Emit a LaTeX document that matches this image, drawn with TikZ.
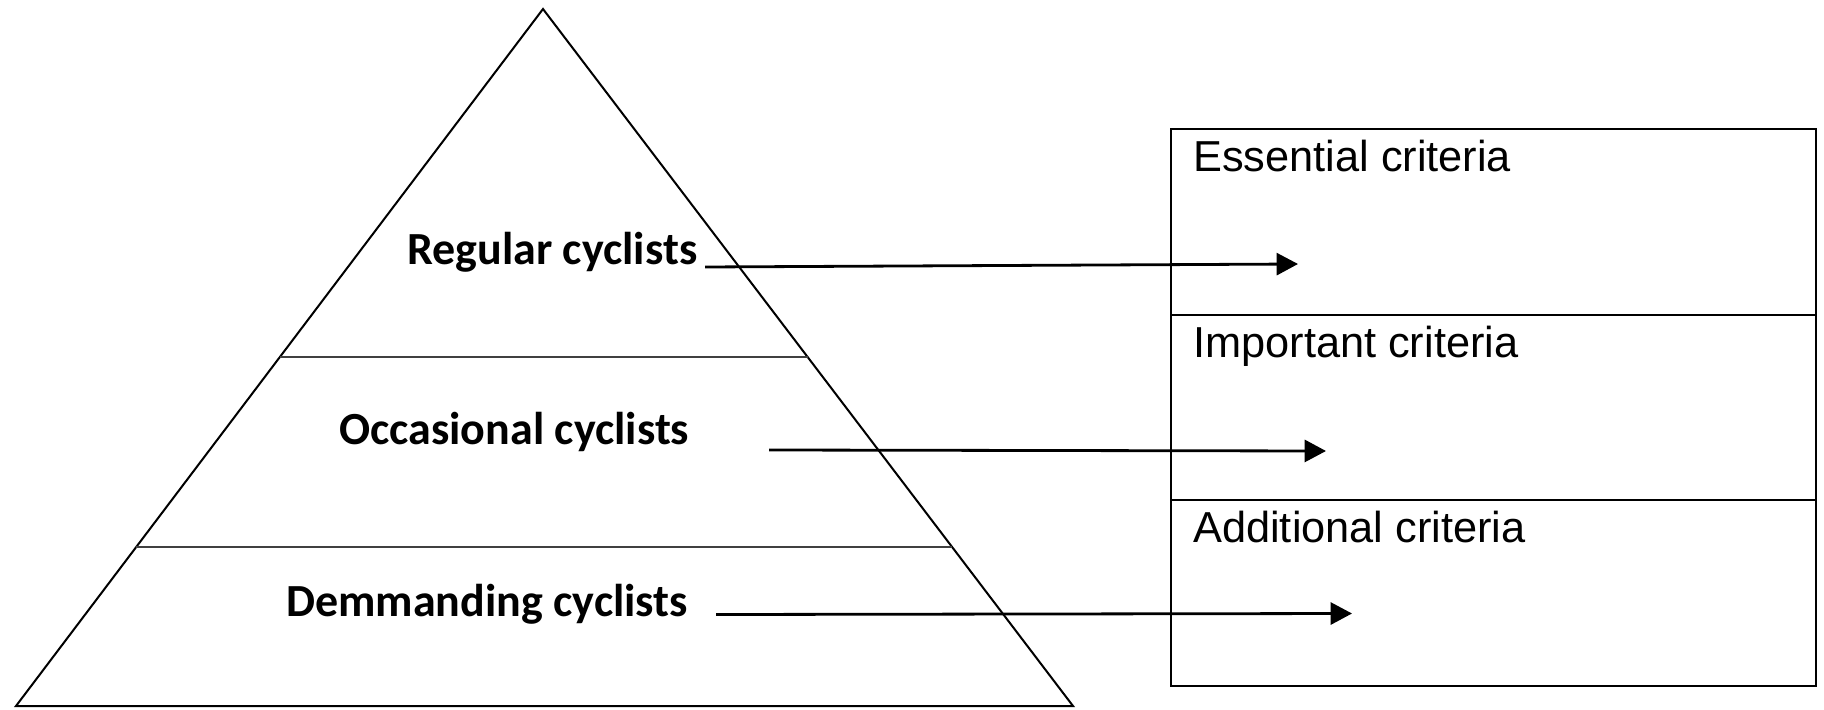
\documentclass[tikz,border=0pt]{standalone}
\usepackage{fontspec}
\setmainfont{Carlito}
\newfontfamily\critfont{Liberation Sans}
\usetikzlibrary{calc, arrows.meta}

\begin{document}
\begin{tikzpicture}[x=0.75pt, y=-0.75pt,
  edge/.style={line width=1.5pt},
  layer/.style={line width=1.5pt, black!75},
  level/.style={font=\fontsize{34.5}{41}\selectfont\bfseries, anchor=base west, inner sep=0pt},
  crit/.style={font=\critfont\fontsize{32.5}{39}\selectfont, anchor=base west, inner sep=0pt},
  arr/.style={-{Triangle[length=16pt, width=16.5pt]}, line width=2.1pt}]
  \useasboundingbox (0,0) rectangle (1824,710);

  \coordinate (top) at (543,9);
  \coordinate (bl) at (16,706);
  \coordinate (br) at (1073,706);
  \draw[edge] (top) -- (bl) -- (br) -- cycle;
  \draw[layer] ($(top)!0.4993!(bl)$) -- ($(top)!0.4993!(br)$);
  \draw[layer] ($(top)!0.7719!(bl)$) -- ($(top)!0.7719!(br)$);

  \node[level] (regular) at (407,264) {Regular cyclists};
  \node[level] (occasional) at (339,444) {Occasional cyclists};
  \node[level] (demanding) at (286,616) {Demmanding cyclists};

  \coordinate (boxtl) at (1171,129);
  \coordinate (boxbr) at (1816,686);
  \draw[edge] (boxtl) rectangle (boxbr);
  \draw[edge] (1171,315) -- (1816,315);
  \draw[edge] (1171,500) -- (1816,500);

  \node[crit] (essential) at (1193,171) {Essential criteria};
  \node[crit] (important) at (1193,357) {Important criteria};
  \node[crit] (additional) at (1193,542) {Additional criteria};

  \coordinate (r0) at (705,267);
  \coordinate (r1) at (1298,264);
  \coordinate (o0) at (769,450);
  \coordinate (o1) at (1326,451);
  \coordinate (d0) at (716,614.5);
  \coordinate (d1) at (1352,613.5);
  \draw[arr] (r0) -- (r1);
  \draw[arr] (o0) -- (o1);
  \draw[arr] (d0) -- (d1);
\end{tikzpicture}
\end{document}
